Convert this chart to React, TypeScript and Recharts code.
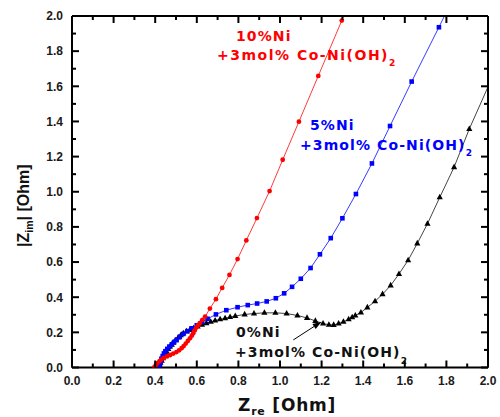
import React from 'react';
import { LineChart, Line, XAxis, YAxis, ReferenceLine } from 'recharts';

const xTicks = [0, 0.1, 0.2, 0.3, 0.4, 0.5, 0.6, 0.7, 0.8, 0.9, 1.0, 1.1, 1.2, 1.3, 1.4, 1.5, 1.6, 1.7, 1.8, 1.9, 2.0];
const yTicks = [0, 0.1, 0.2, 0.3, 0.4, 0.5, 0.6, 0.7, 0.8, 0.9, 1.0, 1.1, 1.2, 1.3, 1.4, 1.5, 1.6, 1.7, 1.8, 1.9, 2.0];

// 10%Ni +3mol% Co-Ni(OH)2  (red circles)
const redX = [0.395, 0.402, 0.41, 0.42, 0.43, 0.442, 0.457, 0.472, 0.487, 0.502, 0.515, 0.527, 0.537, 0.547, 0.557, 0.567, 0.576, 0.583, 0.59, 0.598, 0.606, 0.614, 0.627, 0.64, 0.663, 0.692, 0.722, 0.757, 0.796, 0.838, 0.889, 0.95, 1.013, 1.091, 1.184, 1.297, 1.42];
const redY = [0.0, 0.012, 0.024, 0.035, 0.045, 0.055, 0.063, 0.071, 0.079, 0.088, 0.098, 0.11, 0.122, 0.136, 0.151, 0.166, 0.181, 0.195, 0.211, 0.227, 0.24, 0.252, 0.271, 0.29, 0.335, 0.389, 0.453, 0.527, 0.617, 0.723, 0.85, 1.004, 1.182, 1.399, 1.659, 1.974, 2.32];

// 5%Ni +3mol% Co-Ni(OH)2  (blue squares)
const blueX = [0.42, 0.423, 0.426, 0.43, 0.436, 0.442, 0.449, 0.458, 0.468, 0.48, 0.491, 0.503, 0.518, 0.535, 0.555, 0.575, 0.6, 0.626, 0.652, 0.692, 0.742, 0.796, 0.845, 0.89, 0.936, 0.98, 1.02, 1.058, 1.1, 1.147, 1.192, 1.244, 1.3, 1.365, 1.442, 1.529, 1.633, 1.764, 1.89];
const blueY = [0.005, 0.02, 0.035, 0.05, 0.065, 0.08, 0.093, 0.106, 0.119, 0.132, 0.145, 0.157, 0.174, 0.191, 0.207, 0.223, 0.24, 0.26, 0.277, 0.302, 0.326, 0.343, 0.355, 0.364, 0.376, 0.394, 0.422, 0.459, 0.505, 0.566, 0.644, 0.736, 0.849, 0.987, 1.161, 1.374, 1.627, 1.936, 2.24];

// 0%Ni +3mol% Co-Ni(OH)2  (black triangles)
const blackX = [0.42, 0.425, 0.431, 0.437, 0.442, 0.448, 0.455, 0.463, 0.471, 0.479, 0.487, 0.499, 0.511, 0.523, 0.535, 0.55, 0.567, 0.585, 0.604, 0.625, 0.646, 0.667, 0.688, 0.712, 0.736, 0.76, 0.785, 0.83, 0.875, 0.925, 0.978, 1.032, 1.084, 1.13, 1.17, 1.207, 1.235, 1.258, 1.282, 1.305, 1.33, 1.347, 1.362, 1.389, 1.42, 1.457, 1.493, 1.532, 1.572, 1.616, 1.66, 1.709, 1.768, 1.837, 1.91, 2.02];
const blackY = [0.014, 0.027, 0.039, 0.052, 0.066, 0.078, 0.09, 0.105, 0.119, 0.13, 0.141, 0.155, 0.17, 0.183, 0.195, 0.205, 0.214, 0.224, 0.233, 0.243, 0.252, 0.26, 0.267, 0.274, 0.28, 0.287, 0.293, 0.302, 0.307, 0.311, 0.311, 0.307, 0.296, 0.282, 0.265, 0.25, 0.243, 0.242, 0.25, 0.26, 0.274, 0.286, 0.296, 0.313, 0.342, 0.377, 0.417, 0.467, 0.532, 0.61, 0.706, 0.818, 0.968, 1.14, 1.357, 1.65];

const toPts = (xs: number[], ys: number[]) => xs.map((x, i) => ({ x, y: ys[i] }));
const redData = toPts(redX, redY);
const blueData = toPts(blueX, blueY);
const blackData = toPts(blackX, blackY);

const arrowFrom = { x: 1.064, y: 0.157 };
const arrowTo = { x: 1.2, y: 0.261 };

const TICK_FONT = '"Liberation Sans", Arial, sans-serif';
const ANN_FONT = '"DejaVu Sans", sans-serif';
const MAJOR = 7;
const MINOR = 4;
const TW = 2;

const isMajor = (v: number) => Math.round(v * 10) % 2 === 0;

// tick marks drawn as filled rects (inward), labels on major ticks only
const BottomTick = (p: any) => {
  const v = p.payload.value;
  const m = isMajor(v);
  const len = m ? MAJOR : MINOR;
  return (
    <g>
      <rect x={p.x - TW / 2} y={p.y - len} width={TW} height={len} fill="#000" />
      {m && (
        <text x={p.x} y={p.y + 17.5} textAnchor="middle" fontFamily={TICK_FONT} fontWeight="bold" fontSize={12} fill="#1a1a1a">
          {v.toFixed(1)}
        </text>
      )}
    </g>
  );
};
const TopTick = (p: any) => {
  const v = p.payload.value;
  const len = isMajor(v) ? MAJOR : MINOR;
  return <rect x={p.x - TW / 2} y={p.y} width={TW} height={len} fill="#000" />;
};
const LeftTick = (p: any) => {
  const v = p.payload.value;
  const m = isMajor(v);
  const len = m ? MAJOR : MINOR;
  return (
    <g>
      <rect x={p.x} y={p.y - TW / 2} width={len} height={TW} fill="#000" />
      {m && (
        <text x={p.x - 9} y={p.y + 4.3} textAnchor="end" fontFamily={TICK_FONT} fontWeight="bold" fontSize={12} fill="#1a1a1a">
          {v.toFixed(1)}
        </text>
      )}
    </g>
  );
};
const RightTick = (p: any) => {
  const v = p.payload.value;
  const len = isMajor(v) ? MAJOR : MINOR;
  return <rect x={p.x - len} y={p.y - TW / 2} width={len} height={TW} fill="#000" />;
};

const redDot = (p: any) => <circle key={`r${p.index}`} cx={p.cx} cy={p.cy} r={2.4} fill="#ff0000" />;
const blueDot = (p: any) => <rect key={`b${p.index}`} x={p.cx - 2.3} y={p.cy - 2.3} width={4.6} height={4.6} fill="#0000ff" />;
const blackDot = (p: any) => (
  <polygon key={`k${p.index}`} points={`${p.cx},${p.cy - 3.6} ${p.cx - 3.1},${p.cy + 2} ${p.cx + 3.1},${p.cy + 2}`} fill="#000" />
);

const ArrowShape = (p: any) => {
  const { x1, y1, x2, y2 } = p;
  const ang = Math.atan2(y2 - y1, x2 - x1);
  const L = 9;
  const W = 3;
  const bx = x2 - L * Math.cos(ang);
  const by = y2 - L * Math.sin(ang);
  const nx = -Math.sin(ang) * W;
  const ny = Math.cos(ang) * W;
  return (
    <g>
      <line x1={x1} y1={y1} x2={bx} y2={by} stroke="#000" strokeWidth={1} />
      <polygon points={`${x2},${y2} ${bx + nx},${by + ny} ${bx - nx},${by - ny}`} fill="#000" />
    </g>
  );
};

const annStyle = { fontFamily: ANN_FONT, fontWeight: 'bold' as const, fontSize: 14, letterSpacing: 1.1 };

export default function App() {
  return (
    <div style={{ position: 'absolute', left: 0, top: 0, width: 500, height: 417, background: '#fff' }}>
      <LineChart width={500} height={417} margin={{ top: 15, right: 11, left: 0, bottom: 0 }}>
        <XAxis xAxisId="bottom" dataKey="x" type="number" domain={[0, 2]} ticks={xTicks} interval={0} allowDataOverflow
          height={49.5} tickSize={0} tickMargin={0} tickLine={false} tick={BottomTick} axisLine={{ stroke: '#000', strokeWidth: 2 }} />
        <XAxis xAxisId="top" orientation="top" dataKey="x" type="number" domain={[0, 2]} ticks={xTicks} interval={0} allowDataOverflow
          height={1} tickSize={0} tickMargin={0} tickLine={false} tick={TopTick} axisLine={{ stroke: '#000', strokeWidth: 2 }} />
        <YAxis yAxisId="left" type="number" domain={[0, 2]} ticks={yTicks} interval={0} allowDataOverflow
          width={72} tickSize={0} tickMargin={0} tickLine={false} tick={LeftTick} axisLine={{ stroke: '#000', strokeWidth: 2 }} />
        <YAxis yAxisId="right" orientation="right" type="number" domain={[0, 2]} ticks={yTicks} interval={0} allowDataOverflow
          width={1} tickSize={0} tickMargin={0} tickLine={false} tick={RightTick} axisLine={{ stroke: '#000', strokeWidth: 2 }} />
        <Line data={blackData} dataKey="y" xAxisId="bottom" yAxisId="left" stroke="#444" strokeWidth={1} dot={blackDot}
          activeDot={false} isAnimationActive={false} />
        <Line data={blueData} dataKey="y" xAxisId="bottom" yAxisId="left" stroke="#3a3aff" strokeWidth={1} dot={blueDot}
          activeDot={false} isAnimationActive={false} />
        <Line data={redData} dataKey="y" xAxisId="bottom" yAxisId="left" stroke="#ff3a3a" strokeWidth={1} dot={redDot}
          activeDot={false} isAnimationActive={false} />
        <ReferenceLine xAxisId="bottom" yAxisId="left" segment={[arrowFrom, arrowTo]} shape={ArrowShape} />
      </LineChart>
      <svg width={500} height={417} style={{ position: 'absolute', left: 0, top: 0, pointerEvents: 'none' }}>
        <g fill="#ff0000" style={annStyle}>
          <text x={236} y={41}>10%Ni</text>
          <text x={217} y={60} letterSpacing={1.5}>
            +3mol% Co-Ni(OH)<tspan dy={6} fontSize={9}>2</tspan>
          </text>
        </g>
        <g fill="#0000ff" style={annStyle}>
          <text x={310} y={130}>5%Ni</text>
          <text x={300} y={150}>
            +3mol% Co-Ni(OH)<tspan dy={6} fontSize={9}>2</tspan>
          </text>
        </g>
        <g fill="#111" style={annStyle}>
          <text x={236} y={337}>0%Ni</text>
          <text x={235} y={357}>
            +3mol% Co-Ni(OH)<tspan dy={7} fontSize={9}>2</tspan>
          </text>
        </g>
        <text x={238} y={411} fontFamily={ANN_FONT} fontWeight="bold" fontSize={17} fill="#111" letterSpacing={0.8}>
          Z<tspan fontSize={11} dy={4}>re</tspan><tspan dy={-4}> [Ohm]</tspan>
        </text>
        <text transform="translate(29,247) rotate(-90)" x={0} y={0} fontFamily={TICK_FONT} fontWeight="bold" fontSize={16} fill="#111">
          |Z<tspan fontSize={10.5} dy={4}>im</tspan><tspan dy={-4}>| [Ohm]</tspan>
        </text>
      </svg>
    </div>
  );
}
